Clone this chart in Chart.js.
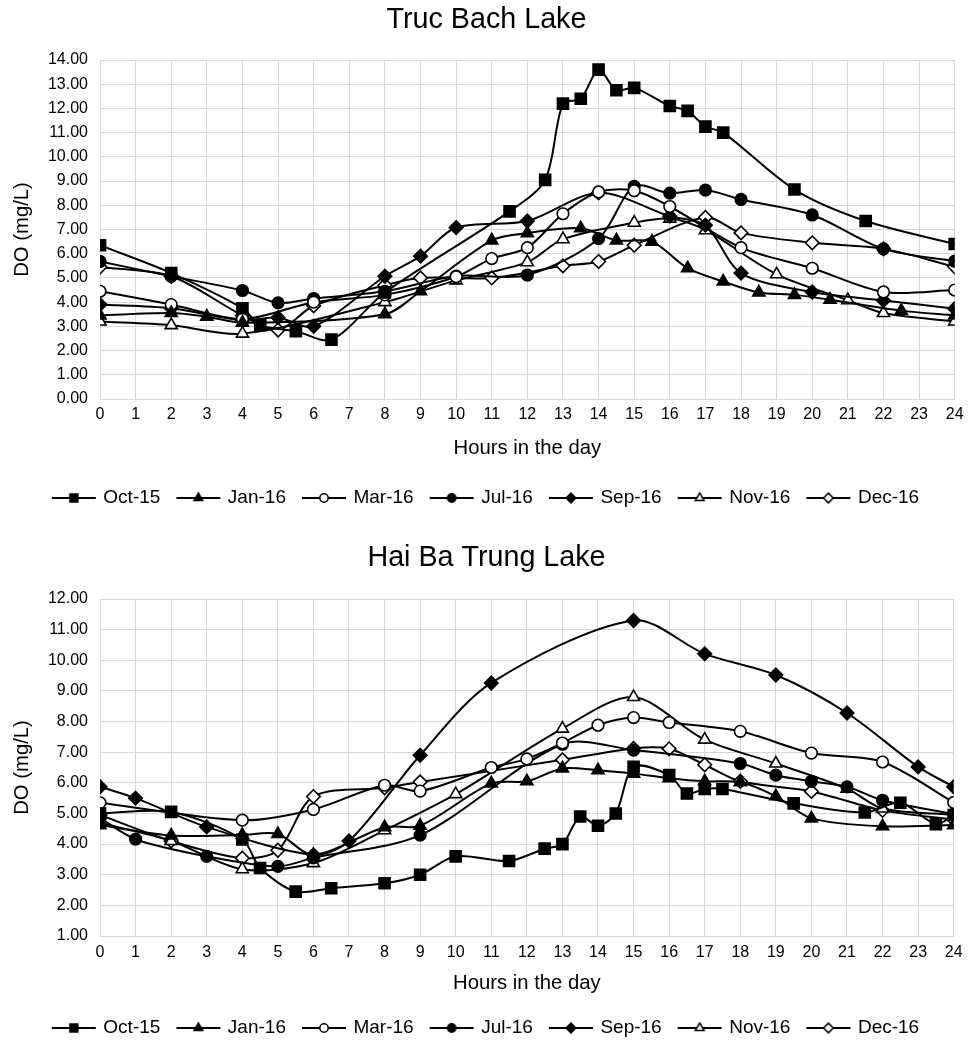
<!DOCTYPE html>
<html>
<head>
<meta charset="utf-8">
<script src="https://cdn.jsdelivr.net/npm/chart.js@4.4.1/dist/chart.umd.min.js"></script>
<style>
    html, body { margin: 0; padding: 0; background: #fff; overflow: hidden; }
    #wrap { position: relative; width: 970px; height: 1047px; overflow: hidden; }
    canvas { position: absolute; left: 0; }
    #tbChart { top: 0; }
    #hbChart { top: 538px; }
</style>
</head>
<body>
<div id="wrap">
    <canvas id="tbChart" width="970" height="545"></canvas>
    <canvas id="hbChart" width="970" height="545"></canvas>
</div>
<script>
// Series names (legend)
const months = ['Oct-15', 'Jan-16', 'Mar-16', 'Jul-16', 'Sep-16', 'Nov-16', 'Dec-16'];

// x tick range, hours in the day
const hourTicks = [0, 24];

// ---- Truc Bach Lake ----
const tbOctH = [0, 2, 4, 4.5, 5.5, 6.5, 8, 11.5, 12.5, 13, 13.5, 14, 14.5, 15, 16, 16.5, 17, 17.5, 19.5, 21.5, 24];
const tbOctV = [6.35, 5.2, 3.75, 3.05, 2.8, 2.45, 4.4, 7.75, 9.05, 12.2, 12.4, 13.6, 12.75, 12.85, 12.1, 11.9, 11.25, 11.0, 8.65, 7.35, 6.4];
const tbJanH = [0, 2, 3, 4, 8, 9, 11, 12, 13.5, 14.5, 15.5, 16.5, 17.5, 18.5, 19.5, 20.5, 22.5, 24];
const tbJanV = [3.45, 3.55, 3.4, 3.15, 3.5, 4.45, 6.55, 6.85, 7.05, 6.55, 6.5, 5.4, 4.85, 4.4, 4.3, 4.1, 3.65, 3.45];
const tbMarH = [0, 2, 4, 6, 8, 10, 11, 12, 13, 14, 15, 16, 18, 20, 22, 24];
const tbMarV = [4.45, 3.9, 3.3, 4.0, 4.3, 5.05, 5.8, 6.25, 7.65, 8.55, 8.6, 7.95, 6.25, 5.4, 4.42, 4.5];
const tbJulH = [0, 2, 4, 5, 6, 8, 10, 12, 14, 15, 16, 17, 18, 20, 22, 24];
const tbJulV = [5.68, 5.07, 4.48, 3.97, 4.15, 4.45, 5.08, 5.12, 6.62, 8.78, 8.5, 8.63, 8.24, 7.6, 6.2, 5.69];
const tbSepH = [0, 2, 4, 5, 6, 8, 9, 10, 12, 14, 16, 17, 18, 20, 22, 24];
const tbSepV = [3.9, 3.75, 3.25, 3.36, 3.0, 5.07, 5.9, 7.08, 7.35, 8.52, 7.55, 7.18, 5.2, 4.42, 4.07, 3.73];
const tbNovH = [0, 2, 4, 8, 10, 12, 13, 15, 16, 17, 19, 21, 22, 24];
const tbNovV = [3.2, 3.05, 2.7, 4.0, 4.9, 5.65, 6.6, 7.28, 7.45, 6.97, 5.15, 4.08, 3.55, 3.2];
const tbDecH = [0, 2, 4, 5, 6, 8, 9, 11, 13, 14, 15, 17, 18, 20, 22, 24];
const tbDecV = [5.45, 5.07, 3.45, 2.85, 3.85, 4.7, 5.0, 5.0, 5.5, 5.68, 6.35, 7.5, 6.86, 6.45, 6.2, 5.46];

// ---- Hai Ba Trung Lake ----
const hbOctH = [0, 2, 4, 4.5, 5.5, 6.5, 8, 9, 10, 11.5, 12.5, 13, 13.5, 14, 14.5, 15, 16, 16.5, 17, 17.5, 19.5, 21.5, 22.5, 23.5, 24];
const hbOctV = [5.0, 5.05, 4.15, 3.22, 2.45, 2.56, 2.72, 3.0, 3.6, 3.45, 3.85, 4.0, 4.9, 4.6, 5.0, 6.52, 6.25, 5.65, 5.8, 5.8, 5.33, 5.03, 5.35, 4.65, 4.95];
const hbJanH = [0, 2, 4, 5, 6, 8, 9, 11, 12, 13, 14, 15, 16, 17, 18, 19, 20, 22, 24];
const hbJanV = [4.62, 4.28, 4.3, 4.33, 3.65, 4.55, 4.6, 5.98, 6.05, 6.47, 6.41, 6.3, 6.15, 6.05, 6.02, 5.56, 4.84, 4.58, 4.62];
const hbMarH = [0, 4, 6, 8, 9, 11, 12, 13, 14, 15, 16, 18, 20, 22, 24];
const hbMarV = [5.35, 4.78, 5.13, 5.92, 5.73, 6.5, 6.78, 7.3, 7.88, 8.13, 7.97, 7.68, 6.97, 6.68, 5.36];
const hbJulH = [0, 1, 3, 5, 6, 9, 13, 15, 18, 19, 20, 21, 22, 24];
const hbJulV = [4.85, 4.16, 3.6, 3.27, 3.55, 4.29, 7.26, 7.07, 6.63, 6.25, 6.05, 5.87, 5.43, 4.98];
const hbSepH = [0, 1, 3, 6, 7, 9, 11, 15, 17, 19, 21, 23, 24];
const hbSepV = [5.87, 5.5, 4.56, 3.65, 4.1, 6.9, 9.26, 11.3, 10.21, 9.52, 8.28, 6.52, 5.87];
const hbNovH = [0, 2, 4, 6, 8, 10, 13, 15, 17, 19, 21, 22, 24];
const hbNovV = [4.7, 4.1, 3.18, 3.38, 4.45, 5.63, 7.77, 8.8, 7.41, 6.63, 5.81, 5.16, 4.95];
const hbDecH = [0, 2, 4, 5, 6, 8, 9, 13, 15, 16, 17, 18, 20, 22, 24];
const hbDecV = [4.95, 4.1, 3.54, 3.8, 5.55, 5.84, 6.03, 6.75, 7.12, 7.11, 6.59, 6.05, 5.72, 5.1, 4.8];

// marker look for each month
const markerStyle = ['rect', 'triangle', 'circle', 'circle', 'rectRot', 'triangle', 'rectRot'];
const markerFilled = [true, true, false, true, true, false, false];
const markerRadius = { rect: 7.8, triangle: 7, circle: 5.8, rectRot: 6.8 };

// pick a font, narrow one if it is there
const probe = document.createElement('canvas').getContext('2d');
function hasFont(name) {
    probe.font = '40px monospace';
    const a = probe.measureText('Truc Bach Lake 0123').width;
    probe.font = '40px "' + name + '", monospace';
    return probe.measureText('Truc Bach Lake 0123').width !== a;
}
const FAMILY = hasFont('Liberation Sans Narrow') ? '"Liberation Sans Narrow", "Liberation Sans", sans-serif' : '"Liberation Sans", Arial, sans-serif';
function sizeFor(text, width) {
    probe.font = '100px ' + FAMILY;
    return Math.round(1000 * width / probe.measureText(text).width) / 10;
}
const titleSize = sizeFor('Truc Bach Lake', 200);
const tickSize = sizeFor('14.00', 40);
const legendSize = sizeFor('Oct-15', 57);
const axisSize = sizeFor('Hours in the day', 148);

// legend sample: short line with the marker in the middle
function legendIcon(i) {
    const c = document.createElement('canvas');
    c.width = 46; c.height = 16;
    const g = c.getContext('2d');
    g.strokeStyle = '#000';
    g.lineWidth = 2;
    g.beginPath(); g.moveTo(1, 8); g.lineTo(45, 8); g.stroke();
    g.fillStyle = markerFilled[i] ? '#000' : '#fff';
    g.lineWidth = 1.5;
    Chart.helpers.drawPoint(g, { pointStyle: markerStyle[i], radius: markerRadius[markerStyle[i]] * 0.72, borderWidth: 1.5 }, 23, 8);
    return c;
}

function buildChart(id, title, series, yMin, yMax, lay) {
    const H = 545;
    const lp = 18; // legend padding
    const padLeft = 14;
    const legTop = lay.legend - lp - legendSize / 2;
    const legH = lp + legendSize + 10;
    const axLH = axisSize * 1.2;
    const titleLH = titleSize * 1.2;

    const datasets = series.map((s, i) => ({
        label: months[i],
        data: s[0].map((h, k) => ({ x: h, y: s[1][k] })),
        borderColor: '#000',
        borderWidth: 2,
        tension: 0.3,
        fill: false,
        pointStyle: markerStyle[i],
        pointRadius: markerRadius[markerStyle[i]],
        pointBackgroundColor: markerFilled[i] ? '#000' : '#fff',
        pointBorderColor: '#000',
        pointBorderWidth: 1.6
    }));

    return new Chart(document.getElementById(id), {
        type: 'line',
        data: { datasets: datasets },
        options: {
            responsive: false,
            animation: false,
            devicePixelRatio: 1,
            layout: { padding: { left: padLeft, right: 11, top: 0, bottom: H - legTop - legH } },
            plugins: {
                title: {
                    display: true,
                    text: title,
                    color: '#000',
                    font: { family: FAMILY, size: titleSize, weight: 'normal' },
                    padding: { top: lay.title - titleLH / 2, bottom: lay.top - lay.title - titleLH / 2 }
                },
                legend: {
                    position: 'bottom',
                    labels: {
                        usePointStyle: true,
                        pointStyleWidth: 40,
                        padding: lp,
                        color: '#000',
                        font: { family: FAMILY, size: legendSize },
                        generateLabels: (chart) => chart.data.datasets.map((d, i) => ({
                            text: d.label,
                            pointStyle: legendIcon(i),
                            fillStyle: '#000',
                            strokeStyle: '#000',
                            lineWidth: 0,
                            hidden: false,
                            datasetIndex: i
                        }))
                    }
                },
                tooltip: { enabled: false }
            },
            scales: {
                x: {
                    type: 'linear',
                    min: hourTicks[0],
                    max: hourTicks[1],
                    ticks: {
                        stepSize: 1,
                        autoSkip: false,
                        maxRotation: 0,
                        padding: lay.tick - lay.bottom - tickSize * 0.6,
                        color: '#000',
                        font: { family: FAMILY, size: tickSize }
                    },
                    grid: { color: '#d6d6d6', drawTicks: false },
                    border: { color: '#d6d6d6' },
                    title: {
                        display: true,
                        text: 'Hours in the day',
                        color: '#000',
                        font: { family: FAMILY, size: axisSize },
                        padding: { top: 0, bottom: legTop - lay.axis - axLH / 2 }
                    },
                    afterFit: (s) => { s.height = legTop - lay.bottom; }
                },
                y: {
                    min: yMin,
                    max: yMax,
                    ticks: {
                        stepSize: 1,
                        padding: 12,
                        color: '#000',
                        font: { family: FAMILY, size: tickSize },
                        callback: (v) => v.toFixed(2)
                    },
                    grid: { color: '#d6d6d6', drawTicks: false },
                    border: { color: '#d6d6d6' },
                    title: {
                        display: true,
                        text: 'DO (mg/L)',
                        color: '#000',
                        font: { family: FAMILY, size: axisSize },
                        padding: { top: 22 - padLeft - axLH / 2, bottom: 0 }
                    },
                    afterFit: (s) => { s.width = 100 - padLeft; }
                }
            }
        }
    });
}

buildChart('tbChart', 'Truc Bach Lake', [
    [tbOctH, tbOctV], [tbJanH, tbJanV], [tbMarH, tbMarV], [tbJulH, tbJulV],
    [tbSepH, tbSepV], [tbNovH, tbNovV], [tbDecH, tbDecV]
], 0, 14, { title: 20, top: 60, bottom: 399, tick: 415, axis: 448, legend: 498 });

buildChart('hbChart', 'Hai Ba Trung Lake', [
    [hbOctH, hbOctV], [hbJanH, hbJanV], [hbMarH, hbMarV], [hbJulH, hbJulV],
    [hbSepH, hbSepV], [hbNovH, hbNovV], [hbDecH, hbDecV]
], 1, 12, { title: 20, top: 61, bottom: 398, tick: 415, axis: 445, legend: 490 });
</script>
</body>
</html>
